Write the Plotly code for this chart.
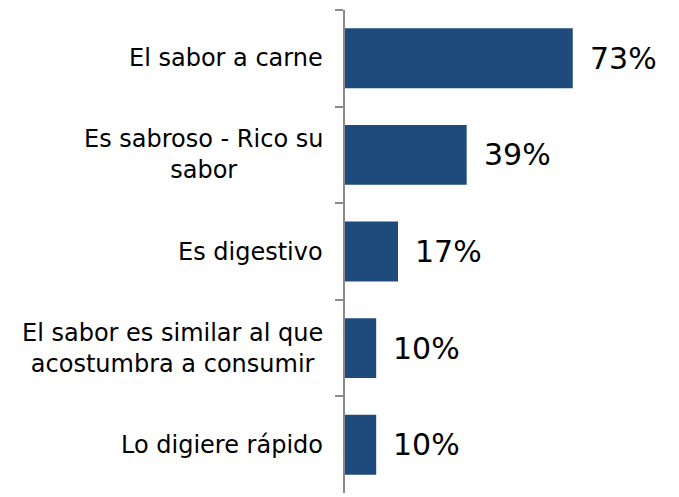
import plotly.graph_objects as go

categories = [
    "El sabor a carne",
    "Es sabroso - Rico su<br>sabor",
    "Es digestivo",
    "El sabor es similar al que<br>acostumbra a consumir",
    "Lo digiere rápido",
]
values = [73, 39, 17, 10, 10]
value_labels = ["73%", "39%", "17%", "10%", "10%"]

BAR_COLOR = "#1F4A7C"
AXIS_COLOR = "#8A8A8A"
FONT = "DejaVu Sans, Verdana, sans-serif"

fig = go.Figure()
fig.add_trace(go.Bar(
    x=values,
    y=categories,
    orientation="h",
    marker=dict(color=BAR_COLOR, line=dict(width=0)),
    hoverinfo="skip",
))

annotations = []
for c, v, t in zip(categories, values, value_labels):
    annotations.append(dict(
        x=v, y=c, xref="x", yref="y", text=t, showarrow=False,
        xanchor="left", yanchor="middle", xshift=15,
        font=dict(family=FONT, size=30, color="#000000"),
    ))
    annotations.append(dict(
        x=0, y=c, xref="paper", yref="y", text=c, showarrow=False,
        xanchor="right", yanchor="middle", xshift=-20, align="center",
        font=dict(family=FONT, size=24, color="#000000"),
    ))

fig.update_layout(
    width=671, height=489,
    margin=dict(l=337, r=22, t=2, b=4),
    paper_bgcolor="white",
    plot_bgcolor="white",
    showlegend=False,
    bargap=0.38,
    annotations=annotations,
    xaxis=dict(range=[0, 100], visible=False, fixedrange=True),
    yaxis=dict(
        categoryorder="array",
        categoryarray=categories,
        autorange="reversed",
        showticklabels=False,
        showline=True, linecolor=AXIS_COLOR, linewidth=2,
        ticks="outside", tickson="boundaries", ticklen=8,
        tickcolor=AXIS_COLOR, tickwidth=2,
        showgrid=False, zeroline=False, fixedrange=True,
    ),
)

fig.write_html("out.html")
